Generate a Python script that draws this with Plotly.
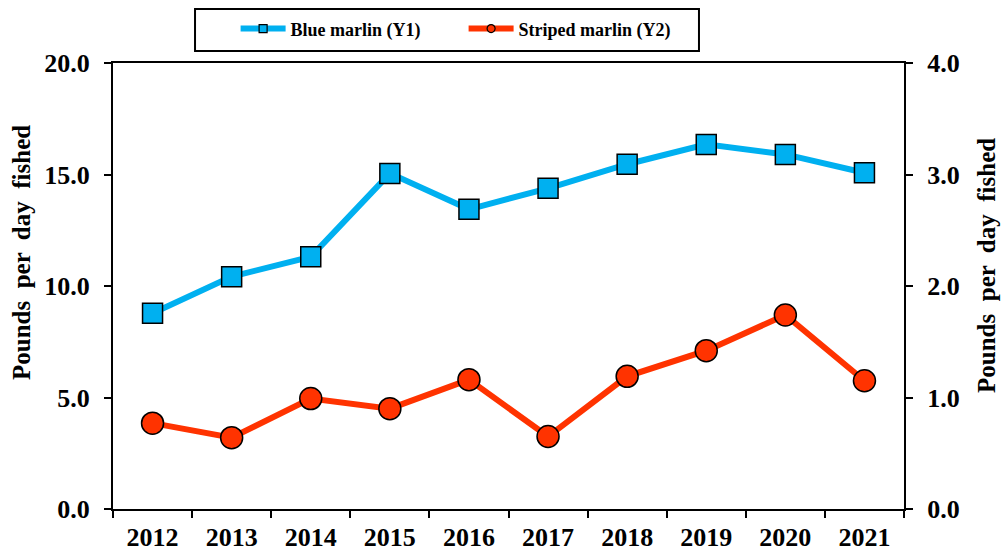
import plotly.graph_objects as go

# Catch rates by year
years = ["2012", "2013", "2014", "2015", "2016", "2017", "2018", "2019", "2020", "2021"]
blue_marlin = [8.78, 10.42, 11.31, 15.05, 13.44, 14.38, 15.46, 16.35, 15.90, 15.08]
striped_marlin = [0.77, 0.64, 0.99, 0.90, 1.16, 0.65, 1.19, 1.42, 1.74, 1.15]

left_ticks = [0, 5, 10, 15, 20]
right_ticks = [0, 1, 2, 3, 4]
y_title = "Pounds  per  day  fished"

BLUE = "#00B0F0"
RED = "#FF3300"
FONT = "Liberation Serif"

fig = go.Figure()

# Data series (legend entries come from the small-marker traces below)
fig.add_trace(go.Scatter(
    x=years, y=blue_marlin, mode="lines+markers", name="Blue marlin (Y1)",
    line=dict(color=BLUE, width=6),
    marker=dict(symbol="square", size=20, color=BLUE, line=dict(color="black", width=1.5)),
    showlegend=False, yaxis="y",
))
fig.add_trace(go.Scatter(
    x=years, y=striped_marlin, mode="lines+markers", name="Striped marlin (Y2)",
    line=dict(color=RED, width=6),
    marker=dict(symbol="circle", size=22, color=RED, line=dict(color="black", width=1.5)),
    showlegend=False, yaxis="y2",
))

# Legend keys with small markers
fig.add_trace(go.Scatter(
    x=[None], y=[None], mode="lines+markers", name="Blue marlin (Y1)",
    line=dict(color=BLUE, width=6),
    marker=dict(symbol="square", size=8, color=BLUE, line=dict(color="black", width=1.2)),
))
fig.add_trace(go.Scatter(
    x=[None], y=[None], mode="lines+markers", name="Striped marlin (Y2)",
    line=dict(color=RED, width=6),
    marker=dict(symbol="circle", size=8, color=RED, line=dict(color="black", width=1.2)),
    yaxis="y2",
))

axis_font = dict(family=FONT, size=26, color="black", weight="bold")
title_font = dict(family=FONT, size=25, color="black", weight="bold")

fig.update_layout(
    width=1005, height=551,
    margin=dict(l=113, r=101, t=63, b=42, autoexpand=False),
    paper_bgcolor="white", plot_bgcolor="white",
    font=dict(family=FONT, color="black"),
    xaxis=dict(
        type="category", categoryorder="array", categoryarray=years,
        range=[-0.5, len(years) - 0.5],
        showline=True, linecolor="black", linewidth=2, mirror=True,
        ticks="outside", tickson="boundaries", ticklen=7, tickwidth=2, tickcolor="black",
        tickfont=axis_font, ticklabelstandoff=4, showgrid=False, zeroline=False,
    ),
    yaxis=dict(
        range=[0, 20], tickvals=left_ticks, ticktext=[f"{v:.1f}" for v in left_ticks],
        showline=True, linecolor="black", linewidth=2,
        ticks="outside", ticklen=7, tickwidth=2, tickcolor="black",
        tickfont=axis_font, ticklabelstandoff=9, showgrid=False, zeroline=False,
    ),
    yaxis2=dict(
        range=[0, 4], tickvals=right_ticks, ticktext=[f"{v:.1f}" for v in right_ticks],
        overlaying="y", side="right",
        showline=True, linecolor="black", linewidth=2,
        ticks="outside", ticklen=7, tickwidth=2, tickcolor="black",
        tickfont=axis_font, ticklabelstandoff=9, showgrid=False, zeroline=False,
    ),
    legend=dict(
        orientation="h", x=0.155, xanchor="left", y=1.118, yanchor="top",
        bgcolor="rgba(0,0,0,0)", borderwidth=0,
        font=dict(family=FONT, size=18, color="black", weight="bold"),
        itemwidth=45, entrywidth=168, entrywidthmode="pixels",
    ),
    shapes=[dict(
        type="rect", xref="paper", yref="paper",
        x0=0.1037, x1=0.7408, y0=1.0269, y1=1.1211,
        line=dict(color="black", width=2), fillcolor="rgba(0,0,0,0)",
    )],
    annotations=[
        dict(text=y_title, textangle=-90, xref="paper", yref="paper",
             x=-0.115, y=0.574, xanchor="center", yanchor="middle",
             showarrow=False, font=title_font),
        dict(text=y_title, textangle=-90, xref="paper", yref="paper",
             x=1.105, y=0.545, xanchor="center", yanchor="middle",
             showarrow=False, font=title_font),
    ],
)

fig.write_html("out.html")
